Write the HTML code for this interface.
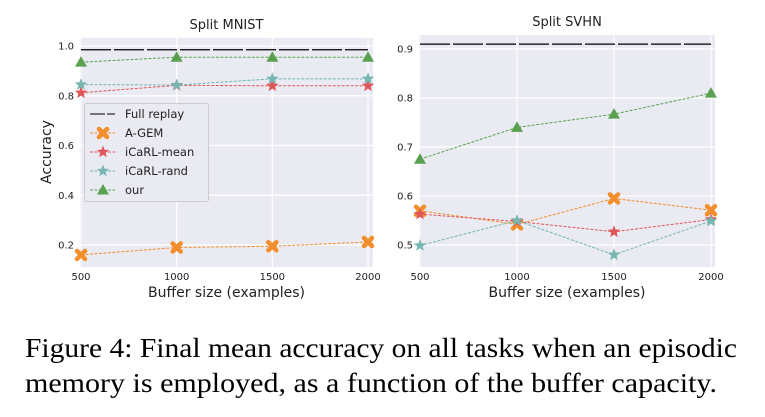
<!DOCTYPE html>
<html><head><meta charset="utf-8"><style>
body{margin:0;background:#fff;width:765px;height:417px;overflow:hidden}
svg{display:block}
</style></head><body>
<svg id="fig" width="765" height="417" xmlns="http://www.w3.org/2000/svg" font-family="DejaVu Sans, Liberation Sans, sans-serif">
<text x="385" y="392" font-family="Liberation Serif, serif" font-size="28" textLength="0"></text>
</svg>
<script>
const xCats=[500,1000,1500,2000];
const mnistFull=0.985;
const mnistAgem=[0.16,0.19,0.195,0.212];
const mnistMean=[0.812,0.842,0.84,0.84];
const mnistRand=[0.845,0.843,0.868,0.868];
const mnistOur=[0.935,0.955,0.955,0.955];
const mnistYTicks=[0.2,0.4,0.6,0.8,1.0];
const svhnFull=0.91;
const svhnAgem=[0.57,0.542,0.595,0.571];
const svhnMean=[0.563,0.548,0.527,0.552];
const svhnRand=[0.499,0.55,0.48,0.549];
const svhnOur=[0.675,0.74,0.767,0.81];
const svhnYTicks=[0.5,0.6,0.7,0.8,0.9];

const NS='http://www.w3.org/2000/svg';
const svg=document.getElementById('fig');
svg.innerHTML='';
function el(t,a,p){const e=document.createElementNS(NS,t);for(const k in a)e.setAttribute(k,a[k]);(p||svg).appendChild(e);return e;}
const colors={agem:'#f28e2b',mean:'#e15759',rand:'#76b7b2',our:'#59a14f'};

function panel(cfg){
  const g=el('g',{});
  
  
  const bg=el('rect',{x:cfg.x0,y:cfg.y0,width:cfg.x1-cfg.x0,height:cfg.y1-cfg.y0,fill:'#eaeaf2'},g);
  
  
  const sx=v=>cfg.px500+(v-500)/1500*(cfg.px2000-cfg.px500);
  const sy=v=>cfg.pyA+(v-cfg.vA)/(cfg.vB-cfg.vA)*(cfg.pyB-cfg.pyA);
  xCats.forEach(v=>{
    const l=el('line',{x1:sx(v),x2:sx(v),y1:cfg.y0,y2:cfg.y1,stroke:'#fff','stroke-width':1.2},g);
    
    const t=el('text',{x:sx(v),y:cfg.y1+13,'font-size':10,'text-anchor':'middle',fill:'#222'},g);
    t.textContent=v;
  });
  cfg.yt.forEach(v=>{
    const l=el('line',{x1:cfg.x0,x2:cfg.x1,y1:sy(v),y2:sy(v),stroke:'#fff','stroke-width':1.2},g);
    
    const t=el('text',{x:cfg.x0-6,y:sy(v)+3.5,'font-size':10,'text-anchor':'end',fill:'#222'},g);
    t.textContent=v.toFixed(1);
  });
  const title=el('text',{x:(cfg.x0+cfg.x1)/2,y:cfg.y0-9,'font-size':13,'text-anchor':'middle',fill:'#222'},g);
  title.textContent=cfg.title;
  const xl=el('text',{x:(cfg.x0+cfg.x1)/2,y:cfg.y1+30,'font-size':14,'text-anchor':'middle',fill:'#222'},g);
  xl.textContent='Buffer size (examples)';
  // full replay
  const fr=el('line',{x1:sx(500),x2:sx(2000),y1:sy(cfg.full),y2:sy(cfg.full),stroke:'#000','stroke-width':1.2,'stroke-dasharray':'30 3'},g);
  
  const series=[['agem',cfg.agem,'x'],['mean',cfg.mean,'star'],['rand',cfg.rand,'star'],['our',cfg.our,'tri']];
  series.forEach(([k,vals,m])=>{
    const pts=vals.map((v,i)=>sx(xCats[i])+','+sy(v)).join(' ');
    const pl=el('polyline',{points:pts,fill:'none',stroke:colors[k],'stroke-width':1,'stroke-dasharray':'3 1.5'},g);
    
    vals.forEach((v,i)=>{const mk=marker(g,m,sx(xCats[i]),sy(v),colors[k]);
      });
  });
  return {g,sx,sy};
}
function marker(g,m,x,y,c){
  if(m==='tri') return el('polygon',{points:`${x},${y-6} ${x-6},${y+4.5} ${x+6},${y+4.5}`,fill:c},g);
  if(m==='star'){let p=[];for(let i=0;i<10;i++){const r=i%2?2.8:6.5,a=-Math.PI/2+i*Math.PI/5;p.push((x+r*Math.cos(a)).toFixed(1)+','+(y+r*Math.sin(a)).toFixed(1));}
    return el('polygon',{points:p.join(' '),fill:c},g);}
  const gg=el('g',{},g);
  el('line',{x1:x-4,y1:y-4,x2:x+4,y2:y+4,stroke:c,'stroke-width':4.5,'stroke-linecap':'round'},gg);
  el('line',{x1:x-4,y1:y+4,x2:x+4,y2:y-4,stroke:c,'stroke-width':4.5,'stroke-linecap':'round'},gg);
  return gg;
}
const L=panel({name:'split-mnist-chart',title:'Split MNIST',x0:80,x1:373,y0:38,y1:267,px500:81,px2000:368,vA:1.0,pyA:46,vB:0.2,pyB:245,yt:mnistYTicks,full:mnistFull,agem:mnistAgem,mean:mnistMean,rand:mnistRand,our:mnistOur});
const R=panel({name:'split-svhn-chart',title:'Split SVHN',x0:419,x1:715,y0:35,y1:267,px500:420,px2000:711,vA:0.9,pyA:49,vB:0.5,pyB:245,yt:svhnYTicks,full:svhnFull,agem:svhnAgem,mean:svhnMean,rand:svhnRand,our:svhnOur});
const yl=el('text',{x:0,y:0,'font-size':14,'text-anchor':'middle',fill:'#222',transform:'translate(51,152) rotate(-90)'});
yl.textContent='Accuracy';


// legend
const lg=el('g',{});


el('rect',{x:84.5,y:103.5,width:124,height:98,rx:2,fill:'#eaeaf2',stroke:'#ccc'},lg);
const items=[['Full replay','#000',null],['A-GEM',colors.agem,'x'],['iCaRL-mean',colors.mean,'star'],['iCaRL-rand',colors.rand,'star'],['our',colors.our,'tri']];
items.forEach((it,i)=>{
  const y=114+i*19;
  const e=el('g',{},lg);
  
  
  el('line',{x1:90,x2:115,y1:y,y2:y,stroke:it[1],'stroke-width':1,'stroke-dasharray':it[2]?'3 1.5':'15 2'},e);
  if(it[2])marker(e,it[2],103,y,it[1]);
  const t=el('text',{x:125,y:y+4,'font-size':11.5,fill:'#222'},e);t.textContent=it[0];
});
const c1=el('text',{x:25,y:357,'font-family':'Liberation Serif, serif','font-size':27,textLength:712,lengthAdjust:'spacingAndGlyphs',fill:'#000'});
c1.textContent='Figure 4: Final mean accuracy on all tasks when an episodic';


const c2=el('text',{x:25,y:392,'font-family':'Liberation Serif, serif','font-size':27,textLength:692,lengthAdjust:'spacingAndGlyphs',fill:'#000'});
c2.textContent='memory is employed, as a function of the buffer capacity.';


</script>
</body></html>
